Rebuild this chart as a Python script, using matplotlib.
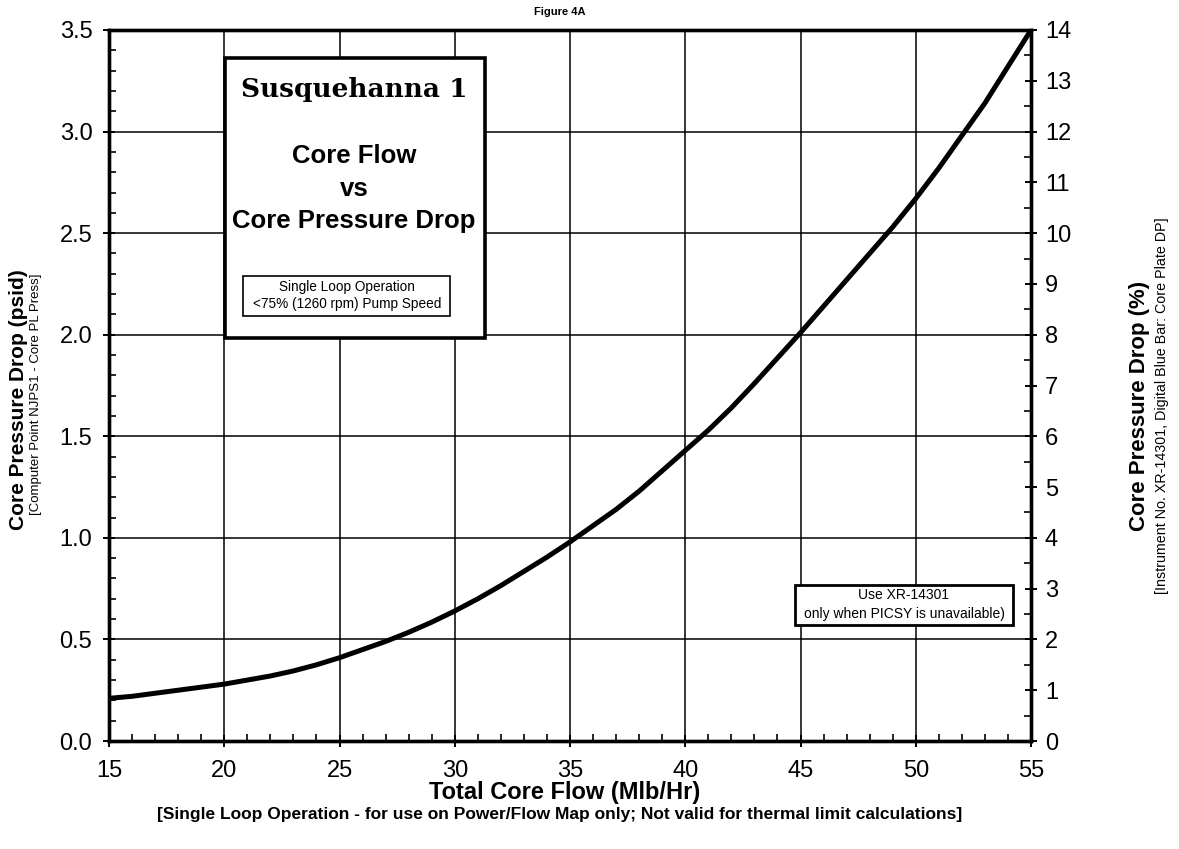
import matplotlib
matplotlib.use("Agg")
import matplotlib.pyplot as plt
from matplotlib.patches import Rectangle
from matplotlib.ticker import MultipleLocator

plt.rcParams['font.family'] = ['Liberation Sans', 'DejaVu Sans']

# Data
core_flow = [15, 16, 17, 18, 19, 20, 21, 22, 23, 24, 25, 26, 27, 28, 29, 30, 31, 32, 33, 34, 35,
             36, 37, 38, 39, 40, 41, 42, 43, 44, 45, 46, 47, 48, 49, 50, 51, 52, 53, 54, 55]
pressure_drop = [0.21, 0.22, 0.235, 0.25, 0.265, 0.28, 0.30, 0.32, 0.345, 0.375, 0.41, 0.45, 0.49,
                 0.535, 0.585, 0.64, 0.70, 0.765, 0.835, 0.905, 0.98, 1.06, 1.14, 1.23, 1.33, 1.43,
                 1.53, 1.64, 1.76, 1.885, 2.01, 2.14, 2.27, 2.40, 2.53, 2.67, 2.82, 2.98, 3.14, 3.32, 3.5]
x_ticks = [15, 20, 25, 30, 35, 40, 45, 50, 55]
y_ticks = [0.0, 0.5, 1.0, 1.5, 2.0, 2.5, 3.0, 3.5]
y2_ticks = list(range(0, 15))
psid_to_pct = 4.0

W, H = 1179, 849
fig = plt.figure(figsize=(W / 100, H / 100), dpi=100)


def fx(x):
    return x / W


def fy(y):
    return 1 - y / H


L, R, T, B = 109, 1031, 30, 741
ax = fig.add_axes([fx(L), fy(B), fx(R) - fx(L), fy(T) - fy(B)])
ax.plot(core_flow, pressure_drop, color='black', lw=3.6, solid_capstyle='butt', zorder=3)
ax.set_xlim(15, 55)
ax.set_ylim(0, 3.5)
ax.set_xticks(x_ticks)
ax.set_yticks(y_ticks)
ax.set_yticklabels([f"{v:.1f}" for v in y_ticks])
ax.xaxis.set_minor_locator(MultipleLocator(1))
ax.yaxis.set_minor_locator(MultipleLocator(0.1))
ax.grid(which='major', color='black', lw=1.1)
for s in ax.spines.values():
    s.set_linewidth(2.4)
ax.tick_params(which='major', direction='inout', length=8, width=1.4, labelsize=17, pad=8)
ax.tick_params(which='minor', direction='in', length=5, width=1.2)
ax.tick_params(axis='x', pad=10)

ax2 = ax.twinx()
ax2.set_ylim(0, 3.5 * psid_to_pct)
ax2.set_yticks(y2_ticks)
ax2.yaxis.set_minor_locator(MultipleLocator(0.5))
ax2.tick_params(which='major', direction='inout', length=8, width=1.4, labelsize=17, pad=6)
ax2.tick_params(which='minor', direction='in', length=5, width=1.2)
for s in ax2.spines.values():
    s.set_linewidth(2.4)

# Title and axis labels
fig.text(fx(560), fy(12), "Figure 4A", ha='center', va='center', fontsize=8, fontweight='bold')
fig.text(fx(565), fy(792), "Total Core Flow (Mlb/Hr)", ha='center', va='center', fontsize=17, fontweight='bold')
fig.text(fx(560), fy(814),
         "[Single Loop Operation - for use on Power/Flow Map only; Not valid for thermal limit calculations]",
         ha='center', va='center', fontsize=12.5, fontweight='bold')
fig.text(fx(19), fy(400), "Core Pressure Drop (psid)", rotation=90, ha='center', va='center',
         fontsize=15, fontweight='bold')
fig.text(fx(36), fy(394), "[Computer Point NJPS1 - Core PL Press]", rotation=90, ha='center', va='center',
         fontsize=9.5)
fig.text(fx(1140), fy(406), "Core Pressure Drop (%)", rotation=90, ha='center', va='center',
         fontsize=16, fontweight='bold')
fig.text(fx(1162), fy(406), "[Instrument No. XR-14301, Digital Blue Bar: Core Plate DP]", rotation=90,
         ha='center', va='center', fontsize=10.3)

# Main info box
bx0, by0, bx1, by1 = 225, 58, 485, 338
fig.patches.append(Rectangle((fx(bx0), fy(by1)), fx(bx1) - fx(bx0), fy(by0) - fy(by1),
                             transform=fig.transFigure, facecolor='white', edgecolor='black',
                             lw=2.6, zorder=10))
fig.text(fx(354), fy(89), "Susquehanna 1", ha='center', va='center', fontsize=19, fontweight='bold',
         family=['DejaVu Serif'], zorder=11)
fig.text(fx(354), fy(156), "Core Flow", ha='center', va='center', fontsize=18.5, fontweight='bold', zorder=11)
fig.text(fx(354), fy(189), "vs", ha='center', va='center', fontsize=18.5, fontweight='bold', zorder=11)
fig.text(fx(354), fy(221), "Core Pressure Drop", ha='center', va='center', fontsize=18.5, fontweight='bold',
         zorder=11)
ix0, iy0, ix1, iy1 = 243, 276, 450, 316
fig.patches.append(Rectangle((fx(ix0), fy(iy1)), fx(ix1) - fx(ix0), fy(iy0) - fy(iy1),
                             transform=fig.transFigure, facecolor='white', edgecolor='black',
                             lw=1.2, zorder=12))
fig.text(fx(347), fy(287), "Single Loop Operation", ha='center', va='center', fontsize=9.8, zorder=13)
fig.text(fx(347), fy(304), "<75% (1260 rpm) Pump Speed", ha='center', va='center', fontsize=9.8, zorder=13)

# Lower right note box
nx0, ny0, nx1, ny1 = 795, 585, 1013, 625
fig.patches.append(Rectangle((fx(nx0), fy(ny1)), fx(nx1) - fx(nx0), fy(ny0) - fy(ny1),
                             transform=fig.transFigure, facecolor='white', edgecolor='black',
                             lw=2.0, zorder=10))
fig.text(fx(904), fy(595), "Use XR-14301", ha='center', va='center', fontsize=10, zorder=11)
fig.text(fx(904), fy(614), "only when PICSY is unavailable)", ha='center', va='center', fontsize=10,
         zorder=11)

fig.savefig("out.png", dpi=100)
